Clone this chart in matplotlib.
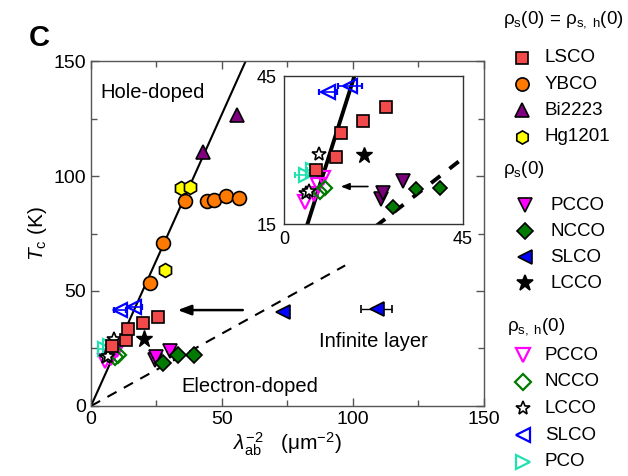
import matplotlib
matplotlib.use("Agg")
import matplotlib.pyplot as plt
from matplotlib.ticker import MultipleLocator
import numpy as np

plt.rcParams['font.family'] = ['Liberation Sans', 'DejaVu Sans']
plt.rcParams['mathtext.fontset'] = 'custom'
plt.rcParams['mathtext.rm'] = 'Liberation Sans'
plt.rcParams['mathtext.it'] = 'Liberation Sans:italic'
plt.rcParams['mathtext.bf'] = 'Liberation Sans:bold'

# ---- superfluid density (lambda_ab^-2, um^-2) vs Tc (K) ----
# rho_s(0) = rho_s,h(0): hole-doped
lsco_x = [8.0, 13.2, 14.3, 19.9, 25.6]
lsco_y = [26.0, 28.6, 33.5, 35.9, 38.8]
ybco_x = [22.5, 27.6, 35.9, 44.3, 46.9, 51.5, 56.6]
ybco_y = [53.6, 70.7, 89.3, 89.0, 89.6, 91.3, 90.3]
bi2223_x = [42.9, 55.6]
bi2223_y = [110.6, 126.5]
hg1201_x = [28.2, 34.2, 37.8]
hg1201_y = [59.1, 94.6, 95.3]

# rho_s(0): electron-doped, filled symbols
pcco_x = [24.5, 25.0, 30.0]
pcco_y = [20.0, 21.2, 23.8]
ncco_x = [27.5, 33.2, 39.2]
ncco_y = [18.5, 22.0, 22.2]
slco_x = [73.2, 109.0]
slco_y = [41.0, 42.2]
slco_xerr = [0.0, 5.8]
lcco_x = [20.2]
lcco_y = [29.0]

# rho_s,h(0): electron-doped, open symbols
pcco_h_x = [5.3, 7.5, 8.6, 9.9]
pcco_h_y = [19.5, 21.0, 22.9, 24.3]
ncco_h_x = [9.0, 10.3]
ncco_h_y = [21.5, 22.2]
lcco_h_x = [5.6, 6.4, 8.9]
lcco_h_y = [21.3, 21.7, 29.1]
slco_h_x = [11.1, 16.6]
slco_h_y = [41.7, 43.0]
slco_h_xerr = [2.3, 3.0]
pco_h_x = [5.5, 7.4]
pco_h_y = [24.9, 26.0]
pco_h_xerr = [2.7, 1.5]

# Uemura-type linear relations
hole_slope = 2.54
electron_slope = 0.63

# arrow: SLCO shift from rho_s(0) to rho_s,h(0)
arrow_y = 41.7
arrow_from = 59.0
arrow_to = 32.0
inset_arrow_y = 22.6
inset_arrow_from = 21.8
inset_arrow_to = 13.6

C_LSCO = '#F24A4A'
C_YBCO = '#FF7A00'
C_BI = '#800080'
C_HG = '#FFFF00'
C_PCCO = '#FF00FF'
C_PCCO_IN = '#7A007A'
C_NCCO = '#007A00'
C_SLCO = '#0000FF'
C_PCO = '#22E0B0'

fig = plt.figure(figsize=(6.28, 4.76), dpi=100)
ax = fig.add_axes([0.1449, 0.1471, 0.6258, 0.7247])


def draw_points(a, ms, pcco_col, lw_line, dash):
    xs = np.linspace(0, 150, 200)
    a.plot(xs, hole_slope * xs, color='black', lw=lw_line, zorder=2)
    xe = np.linspace(0, 97, 200)
    a.plot(xe, electron_slope * xe, color='black', lw=lw_line, ls=(0, dash), zorder=2)

    # open symbols (rho_s,h)
    a.errorbar(pco_h_x, pco_h_y, xerr=pco_h_xerr, fmt='>', ms=ms, mfc='none',
               mec=C_PCO, mew=1.6, ecolor=C_PCO, elinewidth=1.2, capsize=2, zorder=4)
    a.plot(pcco_h_x, pcco_h_y, 'v', ms=ms, mfc='none', mec=C_PCCO, mew=1.6, zorder=4)
    a.plot(ncco_h_x, ncco_h_y, 'D', ms=ms * 0.8, mfc='none', mec=C_NCCO, mew=1.6, zorder=4)
    a.plot(lcco_h_x, lcco_h_y, '*', ms=ms * 1.05, mfc='white', mec='black', mew=1.2, zorder=5)
    a.errorbar(slco_h_x, slco_h_y, xerr=slco_h_xerr, fmt='<', ms=ms, mfc='none',
               mec=C_SLCO, mew=1.6, ecolor=C_SLCO, elinewidth=1.2, capsize=2, zorder=4)

    # filled symbols
    kw = dict(mec='black', mew=1.2, ls='none', zorder=6)
    a.plot(lsco_x, lsco_y, 's', ms=ms * 0.9, mfc=C_LSCO, **kw)
    a.plot(ybco_x, ybco_y, 'o', ms=ms, mfc=C_YBCO, **kw)
    a.plot(bi2223_x, bi2223_y, '^', ms=ms * 1.05, mfc=C_BI, **kw)
    a.plot(hg1201_x, hg1201_y, 'h', ms=ms, mfc=C_HG, **kw)
    a.plot(pcco_x, pcco_y, 'v', ms=ms, mfc=pcco_col, **kw)
    a.plot(ncco_x, ncco_y, 'D', ms=ms * 0.8, mfc=C_NCCO, **kw)
    a.errorbar(slco_x, slco_y, xerr=slco_xerr, fmt='<', ms=ms, mfc=C_SLCO, mec='black',
               mew=1.2, ecolor='black', elinewidth=1.0, capsize=3, zorder=6)
    a.plot(lcco_x, lcco_y, '*', ms=ms * 1.25, mfc='black', mec='black', ls='none', zorder=6)


draw_points(ax, 10, C_PCCO, 1.5, (5, 4))

ax.annotate('', xy=(arrow_to, arrow_y), xytext=(arrow_from, arrow_y),
            arrowprops=dict(arrowstyle='-|>,head_length=0.8,head_width=0.3',
                            color='black', lw=1.8), zorder=3)

ax.set_xlim(0, 150)
ax.set_ylim(0, 150)
ax.xaxis.set_major_locator(MultipleLocator(50))
ax.yaxis.set_major_locator(MultipleLocator(50))
ax.xaxis.set_minor_locator(MultipleLocator(25))
ax.yaxis.set_minor_locator(MultipleLocator(25))
ax.tick_params(which='both', direction='in', top=True, right=True,
               color='#555555', labelsize=14, width=1.0)
ax.tick_params(which='major', length=6)
ax.tick_params(which='minor', length=4)
for s in ax.spines.values():
    s.set_color('#555555')
    s.set_linewidth(1.0)

ax.set_xlabel(r'$\lambda_\mathregular{ab}^{-2}$   (μm$^{-2}$)', fontsize=15, labelpad=2)
ax.set_ylabel(r'$T_\mathregular{c}$ (K)', fontsize=15, labelpad=3)

ax.text(3.4, 136.5, 'Hole-doped', fontsize=14.5, va='center', ha='left')
ax.text(87, 28, 'Infinite layer', fontsize=14.5, va='center', ha='left')
ax.text(34.6, 8.4, 'Electron-doped', fontsize=14.5, va='center', ha='left')

fig.text(0.045, 0.92, 'C', fontsize=21, fontweight='bold', ha='left', va='center')

# ---- inset: low-density region ----
ins = fig.add_axes([0.4522, 0.5294, 0.2850, 0.3109])
ins.set_facecolor('white')
draw_points(ins, 9.5, C_PCCO_IN, 2.8, (3, 3))
ins.annotate('', xy=(inset_arrow_to, inset_arrow_y), xytext=(inset_arrow_from, inset_arrow_y),
             arrowprops=dict(arrowstyle='-|>,head_length=0.5,head_width=0.2',
                             color='black', lw=1.2), zorder=3)
ins.set_xlim(0, 45)
ins.set_ylim(15, 45)
ins.set_xticks([0, 45])
ins.set_yticks([15, 45])
ins.tick_params(length=0, labelsize=13, pad=5)
for s in ins.spines.values():
    s.set_color('#333333')
    s.set_linewidth(1.0)

# ---- grouped legend ----
lg = fig.add_axes([500 / 628, 0, 128 / 628, 1])
lg.set_xlim(500, 628)
lg.set_ylim(476, 0)
lg.axis('off')

groups = [
    (r'ρ$_\mathregular{s}$(0) = ρ$_\mathregular{s,\ h}$(0)', 503, 20, 58, 26.2, 521.7, 545, [
        ('s', 8.5, C_LSCO, 'black', 'LSCO'),
        ('o', 9.5, C_YBCO, 'black', 'YBCO'),
        ('^', 10, C_BI, 'black', 'Bi2223'),
        ('h', 9.5, C_HG, 'black', 'Hg1201'),
    ]),
    (r'ρ$_\mathregular{s}$(0)', 503, 170, 205, 26.1, 525, 550, [
        ('v', 10, C_PCCO, 'black', 'PCCO'),
        ('D', 8, C_NCCO, 'black', 'NCCO'),
        ('<', 10, C_SLCO, 'black', 'SLCO'),
        ('*', 12, 'black', 'black', 'LCCO'),
    ]),
    (r'ρ$_\mathregular{s,\ h}$(0)', 507, 327, 355, 26.7, 523.3, 545, [
        ('v', 10, 'none', C_PCCO, 'PCCO'),
        ('D', 8, 'none', C_NCCO, 'NCCO'),
        ('*', 10, 'white', 'black', 'LCCO'),
        ('<', 10, 'none', C_SLCO, 'SLCO'),
        ('>', 10, 'none', C_PCO, 'PCO'),
    ]),
]
for title, tx, ty, y0, dy, mx, lx, entries in groups:
    lg.text(tx, ty, title, fontsize=13.5, ha='left', va='center')
    for i, (m, ms, fc, ec, name) in enumerate(entries):
        yy = y0 + i * dy
        lg.plot([mx], [yy], marker=m, ms=ms, mfc=fc, mec=ec,
                mew=1.6 if ec != 'black' else 1.2, ls='none', clip_on=False)
        lg.text(lx, yy, name, fontsize=13.5, ha='left', va='center')

fig.savefig('out.png', dpi=100)
